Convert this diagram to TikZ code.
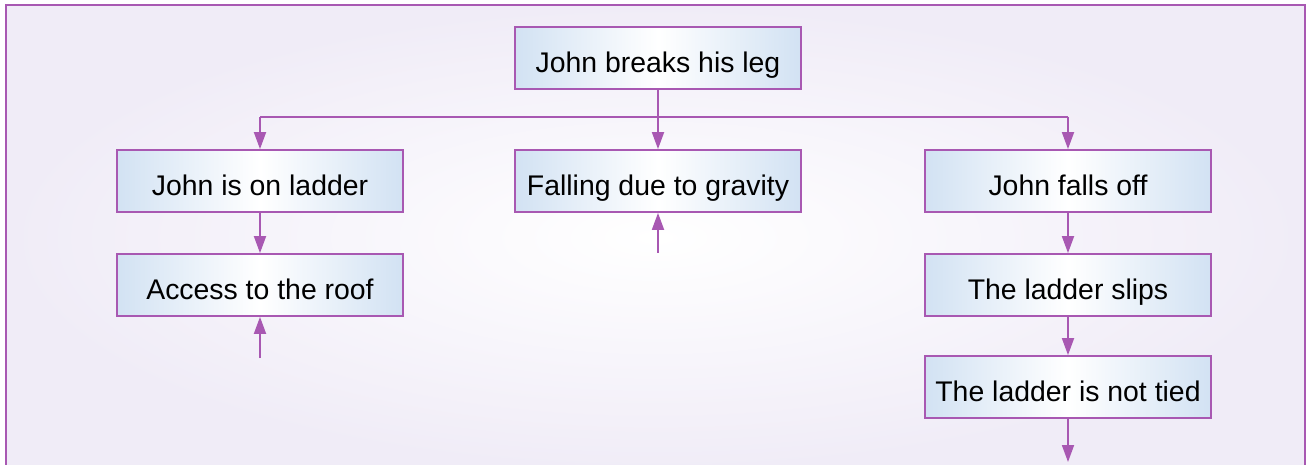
\documentclass[tikz,border=0pt]{standalone}
\usepackage{fontspec}
\setmainfont{Liberation Sans}
\usetikzlibrary{arrows.meta}
\definecolor{frame}{RGB}{168,88,178}
\definecolor{bgl}{RGB}{240,236,247}
\definecolor{boxblue}{RGB}{210,226,243}
\tikzset{
  stepbox/.style={rectangle, draw=frame, line width=0.9pt, minimum width=143pt, minimum height=31pt,
    inner sep=0pt, text height=14.7pt, text depth=0.5pt, shading=axis, left color=boxblue, right color=boxblue, middle color=white,
    shading angle=90, font=\fontsize{14.2}{16}\selectfont, text=black},
  conn/.style={draw=frame, line width=0.9pt},
  arr/.style={conn, -{Triangle[length=8.5pt, width=6pt]}, color=frame}
}
\begin{document}
\begin{tikzpicture}[x=0.5pt, y=-0.5pt]
\useasboundingbox (0,0) rectangle (1308,465);
\shade[inner color=white, outer color=bgl] (6,5) rectangle (1305,470);
\draw[frame, line width=1pt] (6,470) -- (6,5) -- (1305,5) -- (1305,470);

\node[stepbox] (top) at (658,58) {John breaks his leg};
\node[stepbox] (ladder) at (260,181) {John is on ladder};
\node[stepbox] (roof) at (260,285) {Access to the roof};
\node[stepbox] (grav) at (658,181) {Falling due to gravity};
\node[stepbox] (falls) at (1068,181) {John falls off};
\node[stepbox] (slips) at (1068,285) {The ladder slips};
\node[stepbox] (tied) at (1068,387) {The ladder is not tied};

\coordinate (bar) at (658,117);
\coordinate (barL) at (260,117);
\coordinate (barR) at (1068,117);
\coordinate (gravIn) at (658,253);
\coordinate (roofIn) at (260,358);
\coordinate (tiedOut) at (1068,462);

\draw[conn] (top.south) -- (bar);
\draw[conn] (barL) -- (barR);
\draw[arr] (barL) -- (ladder.north);
\draw[arr] (bar) -- (grav.north);
\draw[arr] (barR) -- (falls.north);
\draw[arr] (ladder.south) -- (roof.north);
\draw[arr] (falls.south) -- (slips.north);
\draw[arr] (slips.south) -- (tied.north);
\draw[arr] (gravIn) -- (grav.south);
\draw[arr] (roofIn) -- (roof.south);
\draw[arr] (tied.south) -- (tiedOut);
\end{tikzpicture}
\end{document}
